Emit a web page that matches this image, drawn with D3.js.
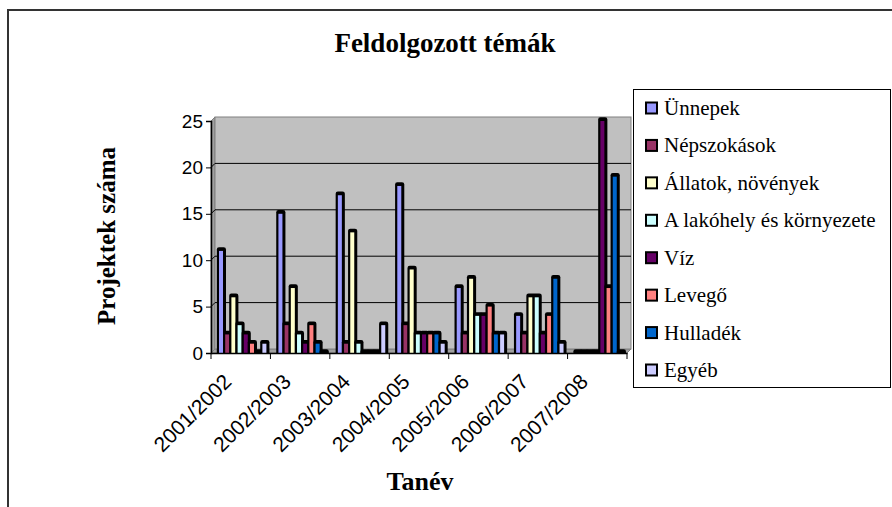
<!DOCTYPE html>
<meta charset='utf-8'>
<html>
<head>
    <title>Feldolgozott témák</title>
    <script src='https://d3js.org/d3.v7.min.js'></script>
    <style>
        html, body { margin: 0; padding: 0; background: white; }
        svg { display: block; }
        .sans { font-family: 'Liberation Sans', Arial, sans-serif; }
        .serif { font-family: 'Liberation Serif', 'Times New Roman', serif; }
    </style>
</head>
<body>
<script>
    // chart data
    const years = ['2001/2002', '2002/2003', '2003/2004', '2004/2005', '2005/2006', '2006/2007', '2007/2008'];
    const topics = ['Ünnepek', 'Népszokások', 'Állatok, növények', 'A lakóhely és környezete', 'Víz', 'Levegő', 'Hulladék', 'Egyéb'];
    const unnepek     = [11, 15, 17, 18, 7, 4, 0];
    const nepszokasok = [2, 3, 1, 3, 2, 2, 0];
    const allatok     = [6, 7, 13, 9, 8, 6, 0];
    const lakohely    = [3, 2, 1, 2, 4, 6, 0];
    const viz         = [2, 1, 0, 2, 4, 2, 25];
    const levego      = [1, 3, 0, 2, 5, 4, 7];
    const hulladek    = [0, 1, 0, 2, 2, 8, 19];
    const egyeb       = [1, 0, 3, 1, 2, 1, 0];
    const yTicks = [0, 5, 10, 15, 20, 25];

    const seriesValues = [unnepek, nepszokasok, allatok, lakohely, viz, levego, hulladek, egyeb];
    const colours = ['#9999FF', '#993366', '#FFFFCC', '#CCFFFF', '#660066', '#FF8080', '#0066CC', '#CCCCFF'];

    const width = 892;
    const height = 507;
    const depth = 4; // 3D wall offset

    const svg = d3.select('body').append('svg')
        .attr('width', width)
        .attr('height', height);

    // outer chart border (runs off the right and bottom edge)
    svg.append('rect')
        .attr('x', 8).attr('y', 10)
        .attr('width', 920).attr('height', 540)
        .attr('fill', 'white')
        .attr('stroke', '#333').attr('stroke-width', 2);

    const x0 = d3.scaleBand().domain(years).range([211, 627]).paddingInner(0).paddingOuter(0);
    const x1 = d3.scaleBand().domain(topics).range([6.5, 6.5 + 49.6]);
    const y = d3.scaleLinear().domain([0, 25]).range([353, 121]);

    // walls
    const plotLeft = 211, plotRight = 627, base = y(0), plotTop = y(25);
    svg.append('polygon')
        .attr('points', [[plotLeft, plotTop], [plotLeft + depth, plotTop - depth], [plotLeft + depth, base - depth], [plotLeft, base]].join(' '))
        .attr('fill', '#a0a0a0').attr('stroke', '#808080');
    svg.append('polygon')
        .attr('points', [[plotLeft, base], [plotLeft + depth, base - depth], [plotRight + depth, base - depth], [plotRight, base]].join(' '))
        .attr('fill', '#a0a0a0').attr('stroke', '#808080');
    svg.append('rect')
        .attr('x', plotLeft + depth).attr('y', plotTop - depth)
        .attr('width', plotRight - plotLeft).attr('height', base - plotTop)
        .attr('fill', '#c0c0c0').attr('stroke', '#808080');

    // gridlines on back wall
    svg.append('g').selectAll('path')
        .data(yTicks.filter(d => d > 0 && d < 25))
        .enter().append('path')
        .attr('d', d => `M${plotLeft},${y(d)}L${plotLeft + depth},${y(d) - depth}L${plotRight + depth},${y(d) - depth}`)
        .attr('fill', 'none')
        .attr('stroke', '#000').attr('stroke-width', 1);

    // bars
    const bw = x1.bandwidth();
    const groups = svg.append('g').selectAll('g')
        .data(years)
        .enter().append('g')
        .attr('transform', d => `translate(${x0(d)},0)`);

    groups.each(function (year, yi) {
        const g = d3.select(this);
        topics.forEach(function (t, si) {
            const v = seriesValues[si][yi];
            const bx = x1(t);
            const by = y(v);
            g.append('path')
                .attr('d', `M${bx - 0.7},${base}L${bx - 0.7},${by - 1.5}Q${bx - 0.7},${by - 3.7} ${bx + 1.5},${by - 3.7}` +
                    `L${bx + bw},${by - 3.7}Q${bx + bw + 2.3},${by - 3.7} ${bx + bw + 2.3},${by - 1.5}L${bx + bw + 2.3},${base}Z`)
                .attr('fill', '#000');
            if (v > 0) {
                g.append('rect')
                    .attr('x', bx + 1.5)
                    .attr('y', by)
                    .attr('width', bw - 2.2)
                    .attr('height', base - by)
                    .attr('fill', colours[si]);
            }
        });
    });

    // axes
    const yAxis = d3.axisLeft(y).tickValues(yTicks).tickSize(5).tickPadding(3);
    const yg = svg.append('g').attr('transform', `translate(${plotLeft},0)`).call(yAxis);
    yg.select('.domain').attr('stroke', '#000').attr('stroke-width', 1.5);
    yg.selectAll('text')
        .attr('class', 'sans')
        .attr('font-family', null)
        .style('font-size', '19px')
        .attr('fill', '#000');

    const xAxis = d3.axisBottom(x0).tickSize(0).tickFormat('');
    const xg = svg.append('g').attr('transform', `translate(0,${base})`).call(xAxis);
    xg.select('.domain').attr('stroke', '#000').attr('stroke-width', 1.5);
    // category boundary ticks
    xg.selectAll('line.bound')
        .data(years.concat(['end']))
        .enter().append('line')
        .attr('class', 'bound')
        .attr('x1', (d, i) => plotLeft + i * x0.step())
        .attr('x2', (d, i) => plotLeft + i * x0.step())
        .attr('y1', 0).attr('y2', 6)
        .attr('stroke', '#000');
    xg.selectAll('text.lbl')
        .data(years)
        .enter().append('text')
        .attr('class', 'lbl sans')
        .attr('transform', d => `translate(${x0(d) + x0.bandwidth() / 2 - 8},${30}) rotate(-45)`)
        .attr('text-anchor', 'end')
        .style('font-family', "'Liberation Sans', Arial, sans-serif")
        .style('font-size', '21px')
        .attr('fill', '#000')
        .text(d => d);

    // titles
    svg.append('text')
        .attr('class', 'serif')
        .attr('x', 445).attr('y', 52)
        .attr('text-anchor', 'middle')
        .style('font-weight', 'bold')
        .style('font-size', '27px')
        .text('Feldolgozott témák');

    svg.append('text')
        .attr('class', 'serif')
        .attr('transform', 'translate(115,236) rotate(-90)')
        .attr('text-anchor', 'middle')
        .style('font-weight', 'bold')
        .style('font-size', '25px')
        .text('Projektek száma');

    svg.append('text')
        .attr('class', 'serif')
        .attr('x', 420).attr('y', 490)
        .attr('text-anchor', 'middle')
        .style('font-weight', 'bold')
        .style('font-size', '26px')
        .text('Tanév');

    // legend
    const lg = svg.append('g');
    lg.append('rect')
        .attr('x', 633.5).attr('y', 89.5)
        .attr('width', 257).attr('height', 298)
        .attr('fill', 'white')
        .attr('stroke', '#000').attr('stroke-width', 1);

    const legendY = d3.scalePoint().domain(topics).range([108, 370]);
    const items = lg.selectAll('g.item')
        .data(topics)
        .enter().append('g')
        .attr('class', 'item')
        .attr('transform', d => `translate(0,${legendY(d)})`);
    items.append('rect')
        .attr('x', 646).attr('y', -5.5)
        .attr('width', 11).attr('height', 11)
        .attr('fill', (d, i) => colours[i])
        .attr('stroke', '#000').attr('stroke-width', 2);
    items.append('text')
        .attr('class', 'serif')
        .attr('x', 664).attr('y', 7)
        .style('font-size', '21px')
        .attr('fill', '#000')
        .text(d => d);
</script>
</body>
</html>
